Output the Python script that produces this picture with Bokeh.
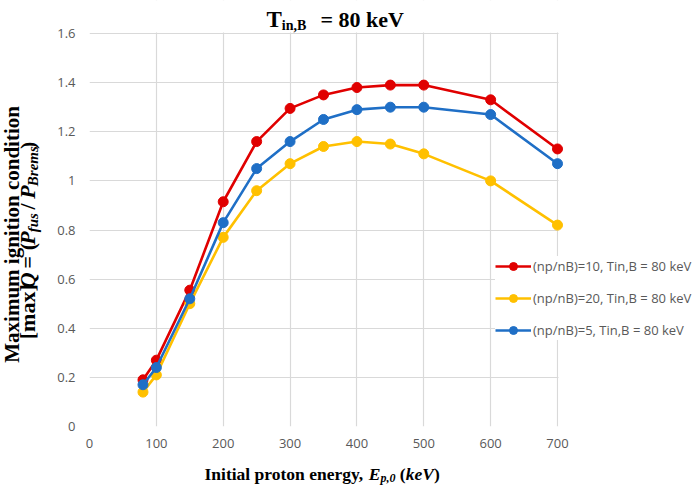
from bokeh.plotting import figure
from bokeh.models import Range1d, FixedTicker, CustomJSTickFormatter, Label, BoxAnnotation
from bokeh.layouts import column, row
from bokeh.embed import file_html
from bokeh.resources import INLINE

# ---------------- data ----------------
energy = [80, 100, 150, 200, 250, 300, 350, 400, 450, 500, 600, 700]
q_ratio10 = [0.19, 0.27, 0.555, 0.915, 1.16, 1.295, 1.35, 1.38, 1.39, 1.39, 1.33, 1.13]
q_ratio20 = [0.14, 0.21, 0.50, 0.77, 0.96, 1.07, 1.14, 1.16, 1.15, 1.11, 1.00, 0.82]
q_ratio5 = [0.17, 0.24, 0.52, 0.83, 1.05, 1.16, 1.25, 1.29, 1.30, 1.30, 1.27, 1.07]
series_labels = ["(np/nB)=10, Tin,B = 80 keV",
                 "(np/nB)=20, Tin,B = 80 keV",
                 "(np/nB)=5, Tin,B = 80 keV"]
series_colors = ["#e00000", "#ffc000", "#1f6fc6"]
x_ticks = [0, 100, 200, 300, 400, 500, 600, 700]
y_ticks = [0, 0.2, 0.4, 0.6, 0.8, 1.0, 1.2, 1.4, 1.6]

# ---------------- layout geometry (pixels) ----------------
W, H = 699, 486
XLAB_H = 27
YLAB_W = 48
MAIN_W = W - YLAB_W
MAIN_H = H - XLAB_H
FRAME_LEFT_PX = 89          # page x of x = 0
FRAME_BOTTOM_PX = 426       # page y of y = 0
XPX = 468 / 700.0           # px per keV
YPX = 393 / 1.6             # px per unit of Q
BOTTOM_BORDER = MAIN_H - FRAME_BOTTOM_PX
x_end = (W - FRAME_LEFT_PX) / XPX
y_end = FRAME_BOTTOM_PX / YPX
BASE_FIX = 5                # renderer draws 'alphabetic' text a bit low

p = figure(width=MAIN_W, height=MAIN_H, output_backend="svg", toolbar_location=None,
           x_range=Range1d(0, x_end), y_range=Range1d(0, y_end),
           min_border_left=FRAME_LEFT_PX - YLAB_W, min_border_right=0,
           min_border_top=0, min_border_bottom=BOTTOM_BORDER)
p.outline_line_color = None
p.background_fill_color = "white"

for ax in (p.xaxis[0], p.yaxis[0]):
    ax.axis_line_color = None
    ax.major_tick_line_color = None
    ax.minor_tick_line_color = None
    ax.major_tick_out = 0
    ax.major_tick_in = 0
    ax.major_label_text_font = "Open Sans"
    ax.major_label_text_font_size = "13px"
    ax.major_label_text_color = "#595959"
p.xaxis.ticker = FixedTicker(ticks=x_ticks)
p.yaxis.ticker = FixedTicker(ticks=y_ticks)
p.yaxis.formatter = CustomJSTickFormatter(code="return (Math.round(tick*10)/10).toString();")
p.xaxis.major_label_standoff = 12
p.yaxis.major_label_standoff = 14

for g in (p.xgrid[0], p.ygrid[0]):
    g.grid_line_color = "#d9d9d9"
    g.grid_line_width = 1.2
p.xgrid.ticker = FixedTicker(ticks=x_ticks)
p.ygrid.ticker = FixedTicker(ticks=y_ticks)

# keep the grid inside the 0..700 x 0..1.6 box
p.add_layout(BoxAnnotation(left=x_ticks[-1] + 1.0 / XPX, fill_color="white", fill_alpha=1.0,
                           line_color=None, level="underlay"))
p.add_layout(BoxAnnotation(bottom=y_ticks[-1] + 1.0 / YPX, fill_color="white", fill_alpha=1.0,
                           line_color=None, level="underlay"))

for ys, lab, col in zip([q_ratio10, q_ratio20, q_ratio5], series_labels, series_colors):
    p.line(energy, ys, line_color=col, line_width=2.6, legend_label=lab)
    p.scatter(energy, ys, size=10, fill_color=col, line_color=col, legend_label=lab)

lg = p.legend[0]
lg.location = (406, 86)
lg.border_line_color = None
lg.background_fill_color = "white"
lg.background_fill_alpha = 1.0
lg.padding = 0
lg.margin = 0
lg.spacing = 12
lg.label_height = 20
lg.glyph_height = 20
lg.glyph_width = 36
lg.label_standoff = 2
lg.label_text_font = "Open Sans"
lg.label_text_font_size = "13px"
lg.label_text_color = "#595959"

# ---------------- composed text ----------------
BOLD = {' ': 250, '(': 333, ')': 333, '[': 333, ']': 333, '/': 278, '=': 570, ',': 250,
        'I': 389, 'E': 667, 'Q': 778, 'P': 611, 'T': 667, 'M': 944, 'B': 667, 'V': 722,
        'a': 500, 'c': 444, 'd': 556, 'e': 444, 'g': 500, 'i': 278, 'k': 556, 'l': 278,
        'm': 833, 'n': 556, 'o': 500, 'p': 556, 'r': 444, 's': 389, 't': 333, 'u': 556,
        'x': 500, 'y': 500, 'f': 333}
BI = {' ': 250, '(': 333, ')': 333, ',': 250, '/': 278, 'P': 611, 'E': 667, 'B': 667,
      'Q': 722, 'V': 667, 'k': 500, 'e': 444, 'f': 333, 'u': 556, 's': 389, 'r': 389,
      'm': 778, 'p': 500}


def tw(s, size, style):
    d = BI if "italic" in style else BOLD
    return sum(d.get(c, 500) for c in s) * size / 1000.0


def text_fig(w, h, x0, y0):
    f = figure(width=w, height=h, output_backend="svg", toolbar_location=None,
               x_range=Range1d(x0, x0 + w), y_range=Range1d(y0 + h, y0),
               x_axis_type=None, y_axis_type=None,
               min_border=0, min_border_left=0, min_border_right=0,
               min_border_top=0, min_border_bottom=0)
    f.outline_line_color = None
    f.grid.visible = False
    return f


def ident(v):
    return v


def place(f, pieces, s_start, s_base, vertical=False, fx=ident, fy=ident):
    pos = s_start
    for txt, size, style, shift in pieces:
        core = txt.strip(" ")
        lead = txt[:len(txt) - len(txt.lstrip(" "))]
        pos += (-1 if vertical else 1) * tw(lead, size, style)
        if vertical:
            lab = Label(x=fx(s_base + shift - BASE_FIX), y=fy(pos), text=core,
                        angle=90, angle_units="deg")
        else:
            lab = Label(x=fx(pos), y=fy(s_base + shift - BASE_FIX), text=core)
        rest = tw(txt.lstrip(" "), size, style)
        pos += (-1 if vertical else 1) * rest
        lab.text_font = "Liberation Serif"
        lab.text_font_size = f"{size}px"
        lab.text_font_style = style
        lab.text_color = "black"
        lab.text_align = "left"
        lab.text_baseline = "alphabetic"
        f.add_layout(lab)


def page_to_x(sx):
    return (sx - FRAME_LEFT_PX) / XPX


def page_to_y(sy):
    return (FRAME_BOTTOM_PX - sy) / YPX


# title (drawn in the empty top part of the main frame)
place(p, [("T", 23, "bold", 0), ("in,B", 14, "bold", 6)], 266, 24, fx=page_to_x, fy=page_to_y)
place(p, [("= 80 keV", 22, "bold", 0)], 320, 24, fx=page_to_x, fy=page_to_y)

# y axis label
yf = text_fig(YLAB_W, MAIN_H, 0, 0)
l1 = Label(x=16 - BASE_FIX, y=252, text="Maximum ignition condition", angle=90, angle_units="deg",
           text_font="Liberation Serif", text_font_size="21px", text_font_style="bold",
           text_color="black", text_align="center", text_baseline="alphabetic")
yf.add_layout(l1)
pieces2 = [("[max]", 22, "bold", 0), ("Q", 22, "bold italic", 0), (" = (", 22, "bold", 0),
           ("P", 22, "bold italic", 0), ("fus", 15, "bold italic", 5), (" / ", 22, "bold", 0),
           ("P", 22, "bold italic", 0), ("Brems", 15, "bold italic", 5), (")", 22, "bold", 0)]
place(yf, pieces2, 365, 32, vertical=True)

# x axis label
xf = text_fig(W, XLAB_H, 0, H - XLAB_H)
place(xf, [("Initial proton energy, ", 17.5, "bold", 0), ("E", 17.5, "bold italic", 0),
           ("p,0", 12, "bold italic", 4), (" (", 17.5, "bold", 0),
           ("keV", 17.5, "bold italic", 0), (")", 17.5, "bold", 0)], 204, 478)

layout = column(row(yf, p), xf)
open("out.html", "w").write(file_html(layout, INLINE))
